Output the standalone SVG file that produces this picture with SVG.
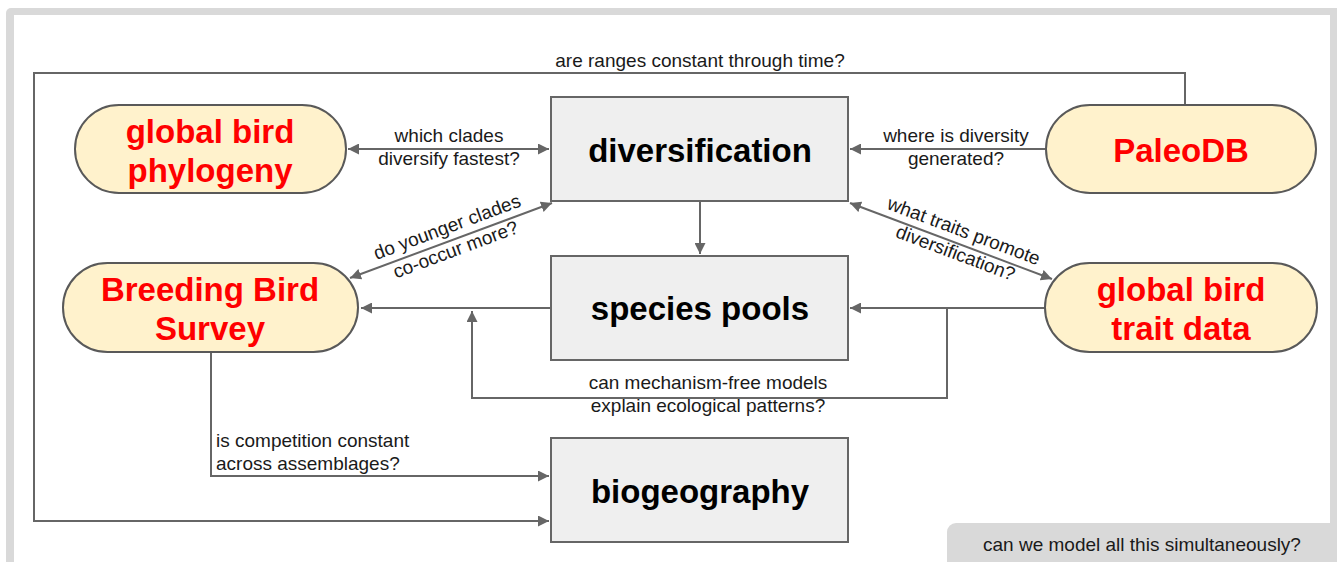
<svg xmlns="http://www.w3.org/2000/svg" width="1337" height="562" viewBox="0 0 1337 562">
<style>
.box{fill:#efefef;stroke:#666;stroke-width:2}
.pill{fill:#fff2cc;stroke:#595959;stroke-width:2}
.title{font-family:"Liberation Sans",Arial,sans-serif;font-weight:bold;font-size:33px;fill:#000;text-anchor:middle}
.red{font-family:"Liberation Sans",Arial,sans-serif;font-weight:bold;font-size:33px;fill:#ff0000;text-anchor:middle}
.lbl{font-family:"Liberation Sans",Arial,sans-serif;font-size:19px;fill:#1a1a1a;text-anchor:middle}
.lft{text-anchor:start}
.con{fill:none;stroke:#666;stroke-width:2}
</style>
<defs>
<marker id="ah" viewBox="0 0 10 10" refX="10" refY="5" markerWidth="5.5" markerHeight="5.5" orient="auto-start-reverse" markerUnits="strokeWidth">
<path d="M0,0 L10,5 L0,10 z" fill="#666"/>
</marker>
</defs>
<rect x="6" y="8" width="1345" height="580" rx="5" fill="#d9d9d9"/>
<rect x="14" y="15" width="1316" height="570" fill="#ffffff"/>
<g id="note">
<rect x="947" y="523" width="420" height="60" rx="9" fill="#d9d9d9"/>
<text class="lbl" x="1142" y="551">can we model all this simultaneously?</text>
</g>
<g id="connectors">
<path class="con" d="M1185,104 V73 H34 V521 H549" marker-end="url(#ah)"/>
<text class="lbl" x="700" y="67">are ranges constant through time?</text>
<path class="con" d="M348,149 H549" marker-start="url(#ah)" marker-end="url(#ah)"/>
<text class="lbl" x="449" y="142">which clades</text>
<text class="lbl" x="449" y="165">diversify fastest?</text>
<path class="con" d="M1045,149 H850" marker-end="url(#ah)"/>
<text class="lbl" x="956" y="142">where is diversity</text>
<text class="lbl" x="956" y="165">generated?</text>
<path class="con" d="M700,201 V254" marker-end="url(#ah)"/>
<path class="con" d="M350,278 L552,203" marker-start="url(#ah)" marker-end="url(#ah)"/>
<g transform="translate(452,240) rotate(-20.4)">
<text class="lbl" x="0" y="-7.5">do younger clades</text>
<text class="lbl" x="0" y="16.5">co-occur more?</text>
</g>
<path class="con" d="M850,203 L1052,279" marker-start="url(#ah)" marker-end="url(#ah)"/>
<g transform="translate(959,244) rotate(20.6)">
<text class="lbl" x="0" y="-7.5">what traits promote</text>
<text class="lbl" x="0" y="16">diversification?</text>
</g>
<path class="con" d="M551,308 H361" marker-end="url(#ah)"/>
<path class="con" d="M1045,308 H850" marker-end="url(#ah)"/>
<path class="con" d="M947,308 V398 H472 V311" marker-end="url(#ah)"/>
<text class="lbl" x="708" y="389">can mechanism-free models</text>
<text class="lbl" x="708" y="412">explain ecological patterns?</text>
<path class="con" d="M211,352 V476 H549" marker-end="url(#ah)"/>
<text class="lbl lft" x="216" y="447">is competition constant</text>
<text class="lbl lft" x="216" y="470">across assemblages?</text>
</g>
<g id="diversification">
<rect class="box" x="551" y="97" width="297" height="104"/>
<text class="title" x="700" y="162">diversification</text>
</g>
<g id="species-pools">
<rect class="box" x="551" y="256" width="297" height="104"/>
<text class="title" x="700" y="320">species pools</text>
</g>
<g id="biogeography">
<rect class="box" x="551" y="438" width="297" height="104"/>
<text class="title" x="700" y="503">biogeography</text>
</g>
<g id="global-bird-phylogeny">
<rect class="pill" x="75" y="105" width="271" height="88" rx="44"/>
<text class="red" x="210" y="143">global bird</text>
<text class="red" x="210" y="182">phylogeny</text>
</g>
<g id="paleodb">
<rect class="pill" x="1046" y="105" width="270" height="88" rx="44"/>
<text class="red" x="1181" y="162">PaleoDB</text>
</g>
<g id="breeding-bird-survey">
<rect class="pill" x="63" y="263" width="295" height="89" rx="44.5"/>
<text class="red" x="210" y="301">Breeding Bird</text>
<text class="red" x="210" y="340">Survey</text>
</g>
<g id="global-bird-trait-data">
<rect class="pill" x="1045" y="263" width="272" height="89" rx="44.5"/>
<text class="red" x="1181" y="301">global bird</text>
<text class="red" x="1181" y="340">trait data</text>
</g>
</svg>
